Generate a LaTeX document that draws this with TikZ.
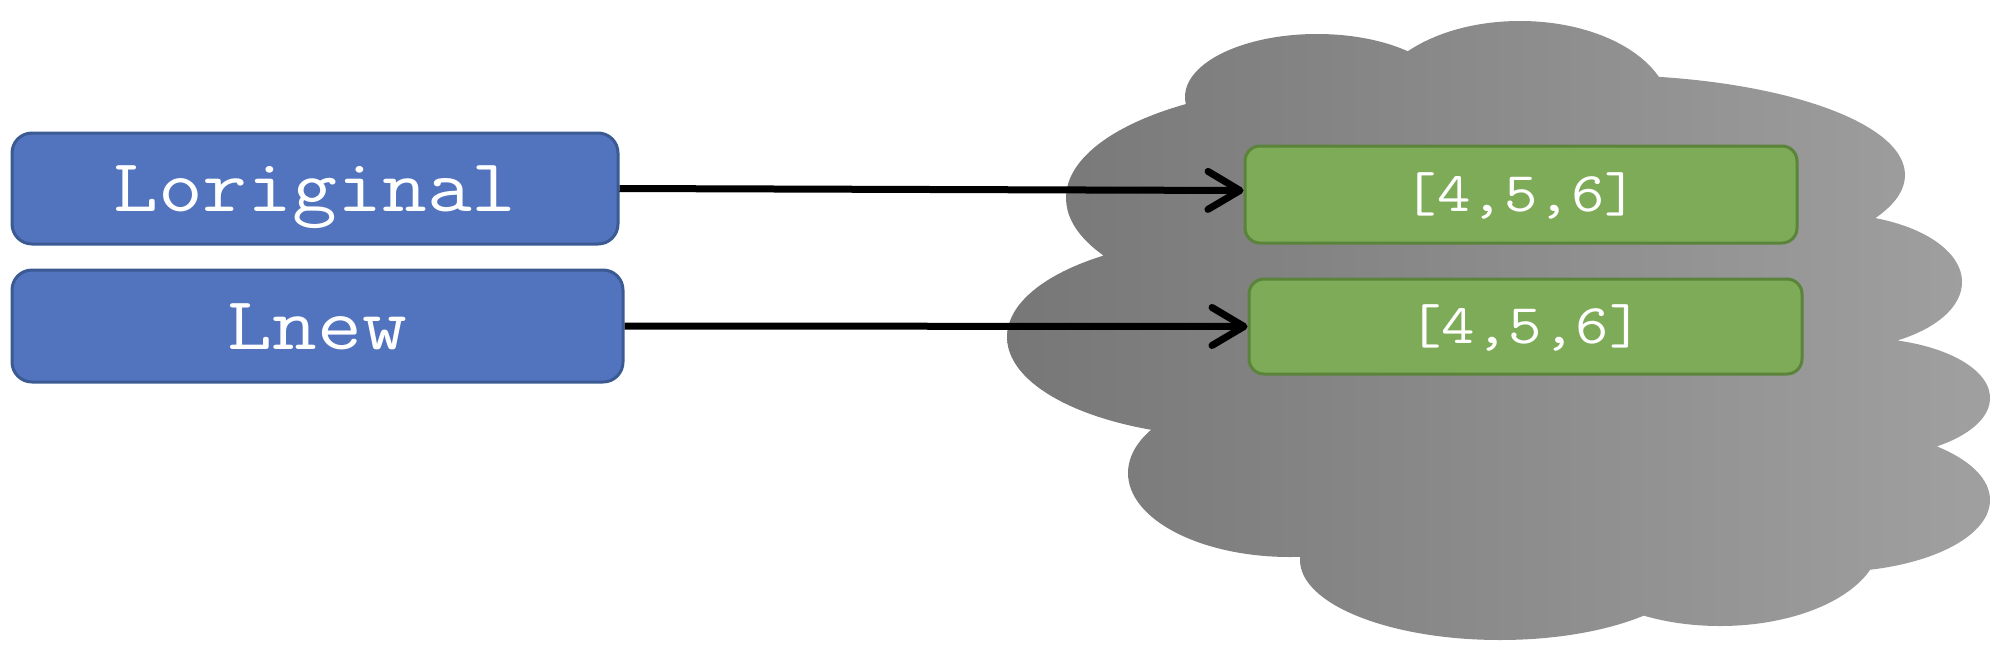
\documentclass[tikz,border=0pt]{standalone}
\usepackage{fontspec}
\usetikzlibrary{arrows.meta}
\definecolor{bluefill}{HTML}{5273BE}
\definecolor{blueline}{HTML}{3B5A93}
\definecolor{greenfill}{HTML}{7EAB57}
\definecolor{greenline}{HTML}{5A843A}
\definecolor{cloudl}{HTML}{777777}
\definecolor{cloudr}{HTML}{A0A0A0}
\newcommand{\wideText}[1]{\scalebox{1.16}[1]{#1}}
\begin{document}
\begin{tikzpicture}[x=1pt,y=-1pt,
  bluebox/.style={draw=blueline, line width=3pt, fill=bluefill, rounded corners=20pt,
    minimum height=111pt, inner sep=0pt, text=white,
    font=\ttfamily\fontsize{75}{80}\selectfont, text height=46pt, text depth=0pt},
  greenbox/.style={draw=greenline, line width=3pt, fill=greenfill, rounded corners=15pt,
    inner sep=0pt, text=white,
    font=\ttfamily\fontsize{56}{60}\selectfont, text height=34pt, text depth=0pt},
  link/.style={line width=7pt, -{Straight Barb[length=32pt,width=38pt,round]}}]
\useasboundingbox (0,0) rectangle (2008,646);
% cloud
\shade[left color=cloudl, right color=cloudr]
 (1317,97) ellipse [x radius=132pt, y radius=63pt]
 (1520,111) ellipse [x radius=150pt, y radius=90pt]
 (1600,175) ellipse [x radius=305pt, y radius=100pt]
 (1830,282) ellipse [x radius=132pt, y radius=68pt]
 (1860,398) ellipse [x radius=130pt, y radius=60pt]
 (1830,500) ellipse [x radius=160pt, y radius=72pt]
 (1720,540) ellipse [x radius=160pt, y radius=86pt]
 (1500,560) ellipse [x radius=200pt, y radius=80pt]
 (1290,473) ellipse [x radius=162pt, y radius=84pt]
 (1237,337) ellipse [x radius=230pt, y radius=100pt]
 (1336,198) ellipse [x radius=270pt, y radius=113pt]
 (1500,380) ellipse [x radius=350pt, y radius=200pt];
% boxes
\node[bluebox, minimum width=606pt] (lorig) at (315,188.5) {\wideText{Loriginal}};
\node[bluebox, minimum width=611pt, minimum height=112pt] (lnew) at (317.5,326) {\wideText{Lnew}};
\node[greenbox, minimum width=552pt, minimum height=97pt] (g1) at (1521,194.5) {\wideText{[4,5,6]}};
\node[greenbox, minimum width=553pt, minimum height=95pt] (g2) at (1525.5,326.5) {\wideText{[4,5,6]}};
% arrows
\draw[link] (lorig.east) -- ([yshift=4pt]g1.west);
\draw[link] (lnew.east) -- (g2.west);
\end{tikzpicture}
\end{document}
